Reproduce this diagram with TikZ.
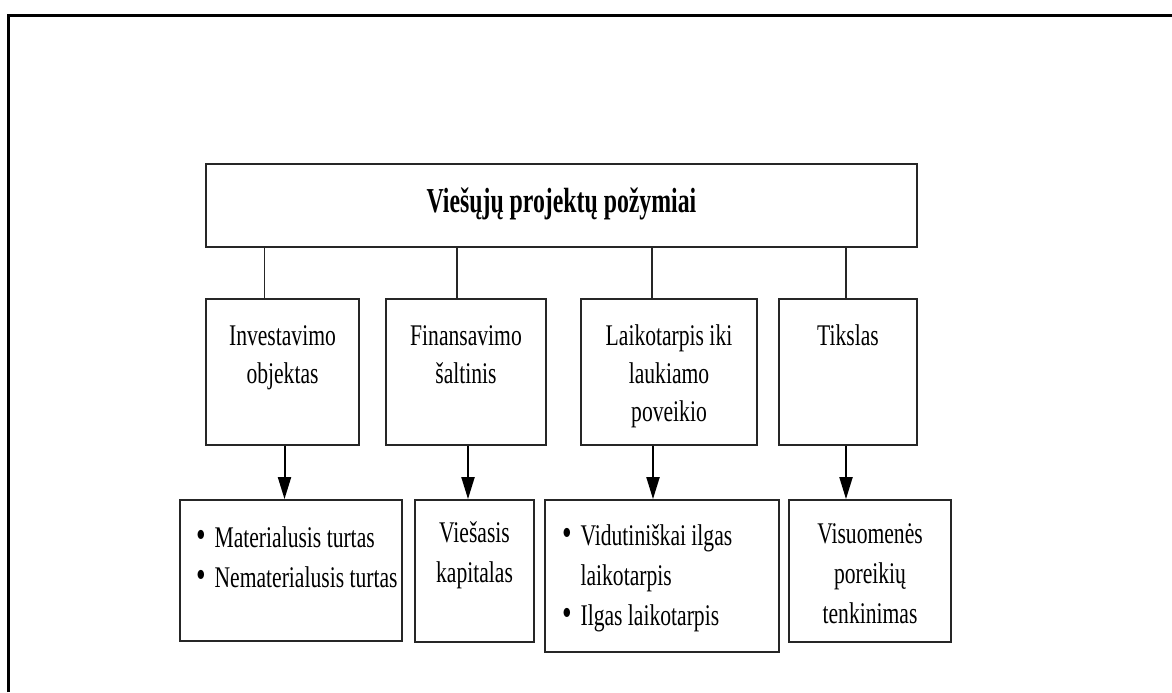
\documentclass[tikz,border=0pt]{standalone}
\usepackage{fontspec}
\setmainfont[FakeStretch=0.72]{Liberation Serif}
\newfontfamily\titlefont[FakeStretch=0.68]{Liberation Serif}
\usetikzlibrary{arrows.meta}
\newcommand{\rows}[1]{\begin{tabular}[t]{@{}c@{}}#1\end{tabular}}
\newcommand{\bullets}[2]{\makebox[#1][l]{\begin{tabular}[t]{@{}l@{\hspace{4.5pt}}l@{}}#2\end{tabular}}}
\newcommand{\dotmark}{{\fontsize{19}{19}\selectfont\textbullet}}

\begin{document}
\begin{tikzpicture}[x=0.5pt, y=-0.5pt,
    box/.style={draw=black!85, line width=0.9pt, inner ysep=0pt, inner xsep=4pt,
      text=black, font=\fontsize{15}{19}\selectfont},
    head/.style={box, font=\titlefont\fontsize{17.5}{21}\selectfont\bfseries,
      minimum width=355.5pt, text height=24pt, text depth=17.5pt},
    crit/.style={box, text height=23pt, text depth=50pt},
    item/.style={box, font=\fontsize{15}{20}\selectfont},
    list/.style={item, inner xsep=8pt},
    conn/.style={draw=black!85, line width=0.7pt},
    arr/.style={draw=black, line width=1pt, -{Triangle[length=11pt,width=6.5pt]}}]
  \useasboundingbox (0,0) rectangle (1172,692);
  \draw[line width=1.5pt] (8.5,692) -- (8.5,15.3) -- (1172,15.3);
  \node[head] (top) at (561.5,205.5) {Viešųjų projektų požymiai};
  \node[crit, minimum width=76.5pt] (inv) at (282.5,372) {\rows{Investavimo\\objektas}};
  \node[crit, minimum width=80pt]   (fin) at (466,372) {\rows{Finansavimo\\šaltinis}};
  \node[crit, minimum width=88pt]   (lai) at (669,372) {\rows{Laikotarpis iki\\laukiamo\\poveikio}};
  \node[crit, minimum width=69pt]   (tik) at (848,372) {\rows{Tikslas}};
  \node[list, text height=23.5pt, text depth=47pt] (turtas) at (291,570.5)
    {\bullets{95pt}{\dotmark & Materialusis turtas\\ \dotmark & Nematerialusis turtas}};
  \node[item, minimum width=59.5pt, text height=21pt, text depth=50pt] (kap) at (474.5,571)
    {\rows{Viešasis\\kapitalas}};
  \node[list, inner xsep=8.5pt, text height=22.5pt, text depth=53.5pt] (trukme) at (662,576)
    {\bullets{100pt}{\dotmark & Vidutiniškai ilgas\\ & laikotarpis\\ \dotmark & Ilgas laikotarpis}};
  \node[item, minimum width=81pt, text height=21.5pt, text depth=49.5pt] (poreik) at (870,571)
    {\rows{Visuomenės\\poreikių\\tenkinimas}};
  \foreach \n/\dx in {inv/-9pt, fin/-4.5pt, lai/-8.5pt, tik/-1pt}
    \draw[conn] ([xshift=\dx]\n.north) -- ([xshift=\dx]\n.north |- top.south);
  \foreach \a/\b/\dx in {inv/turtas/1pt, fin/kap/1pt, lai/trukme/-8pt, tik/poreik/-1pt}
    \draw[arr] ([xshift=\dx]\a.south) -- ([xshift=\dx]\a.south |- \b.north);
\end{tikzpicture}
\end{document}
